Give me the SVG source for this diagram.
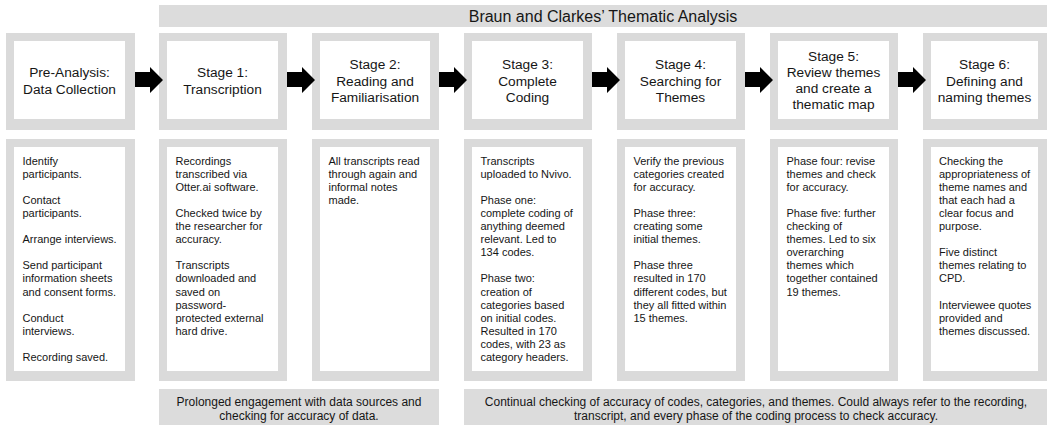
<svg xmlns="http://www.w3.org/2000/svg" width="1047" height="425" viewBox="0 0 1047 425">
  <style>
    .frame { fill: #dadada; }
    .card { fill: #ffffff; }
    .band { fill: #dcdcdc; }
    text { font-family: "Liberation Sans", Arial, Helvetica, sans-serif; fill: #161616; }
    .banner { font-size: 16px; text-anchor: middle; }
    .title { font-size: 13.7px; text-anchor: middle; }
    .body { font-size: 11px; }
    .note { font-size: 12px; text-anchor: middle; }
    .arrow { fill: #000000; }
  </style>
  <defs>
    <!-- block arrow drawn from the right edge of a stage card -->
    <path id="block-arrow" d="M0,72 H15 V67 L28,80 L15,93 V87 H0 Z"/>
  </defs>

  <!-- heading band -->
  <g id="heading">
    <rect class="band" x="159" y="5" width="888" height="22"/>
    <text class="banner" x="603" y="22">Braun and Clarkes’ Thematic Analysis</text>
  </g>

  <!-- Pre-analysis -->
  <g id="pre-analysis-title">
    <rect class="frame" x="6" y="33" width="129" height="97"/>
    <rect class="card" x="14" y="41" width="111" height="78"/>
    <text class="title" x="69.5" y="77.3">Pre-Analysis:<tspan x="69.5" dy="16.3">Data Collection</tspan></text>
  </g>
  <g id="pre-analysis-notes">
    <rect class="frame" x="6" y="139" width="129" height="242"/>
    <rect class="card" x="14" y="147" width="111" height="224"/>
    <text class="body" x="22.5" y="164.5">Identify<tspan x="22.5" dy="13.1">participants.</tspan><tspan x="22.5" dy="26.2">Contact</tspan><tspan x="22.5" dy="13.1">participants.</tspan><tspan x="22.5" dy="26.2">Arrange interviews.</tspan><tspan x="22.5" dy="26.2">Send participant</tspan><tspan x="22.5" dy="13.1">information sheets</tspan><tspan x="22.5" dy="13.1">and consent forms.</tspan><tspan x="22.5" dy="26.2">Conduct</tspan><tspan x="22.5" dy="13.1">interviews.</tspan><tspan x="22.5" dy="26.2">Recording saved.</tspan></text>
  </g>

  <!-- Stage 1 -->
  <g id="stage1-title">
    <rect class="frame" x="159" y="33" width="128" height="97"/>
    <rect class="card" x="167" y="41" width="111" height="78"/>
    <text class="title" x="222.5" y="77.3">Stage 1:<tspan x="222.5" dy="16.3">Transcription</tspan></text>
  </g>
  <g id="stage1-notes">
    <rect class="frame" x="159" y="139" width="128" height="242"/>
    <rect class="card" x="167" y="147" width="111" height="224"/>
    <text class="body" x="175.5" y="164.5">Recordings<tspan x="175.5" dy="13.1">transcribed via</tspan><tspan x="175.5" dy="13.1">Otter.ai software.</tspan><tspan x="175.5" dy="26.2">Checked twice by</tspan><tspan x="175.5" dy="13.1">the researcher for</tspan><tspan x="175.5" dy="13.1">accuracy.</tspan><tspan x="175.5" dy="26.2">Transcripts</tspan><tspan x="175.5" dy="13.1">downloaded and</tspan><tspan x="175.5" dy="13.1">saved on</tspan><tspan x="175.5" dy="13.1">password-</tspan><tspan x="175.5" dy="13.1">protected external</tspan><tspan x="175.5" dy="13.1">hard drive.</tspan></text>
  </g>

  <!-- Stage 2 -->
  <g id="stage2-title">
    <rect class="frame" x="312" y="33" width="127" height="97"/>
    <rect class="card" x="320" y="41" width="110" height="78"/>
    <text class="title" x="375" y="69.2">Stage 2:<tspan x="375" dy="16.3">Reading and</tspan><tspan x="375" dy="16.3">Familiarisation</tspan></text>
  </g>
  <g id="stage2-notes">
    <rect class="frame" x="312" y="139" width="127" height="242"/>
    <rect class="card" x="320" y="147" width="110" height="224"/>
    <text class="body" x="328.5" y="164.5">All transcripts read<tspan x="328.5" dy="13.1">through again and</tspan><tspan x="328.5" dy="13.1">informal notes</tspan><tspan x="328.5" dy="13.1">made.</tspan></text>
  </g>

  <!-- Stage 3 -->
  <g id="stage3-title">
    <rect class="frame" x="464" y="33" width="128" height="97"/>
    <rect class="card" x="472" y="41" width="111" height="78"/>
    <text class="title" x="527.5" y="69.2">Stage 3:<tspan x="527.5" dy="16.3">Complete</tspan><tspan x="527.5" dy="16.3">Coding</tspan></text>
  </g>
  <g id="stage3-notes">
    <rect class="frame" x="464" y="139" width="128" height="242"/>
    <rect class="card" x="472" y="147" width="111" height="224"/>
    <text class="body" x="480.5" y="164.5">Transcripts<tspan x="480.5" dy="13.1">uploaded to Nvivo.</tspan><tspan x="480.5" dy="26.2">Phase one:</tspan><tspan x="480.5" dy="13.1">complete coding of</tspan><tspan x="480.5" dy="13.1">anything deemed</tspan><tspan x="480.5" dy="13.1">relevant. Led to</tspan><tspan x="480.5" dy="13.1">134 codes.</tspan><tspan x="480.5" dy="26.2">Phase two:</tspan><tspan x="480.5" dy="13.1">creation of</tspan><tspan x="480.5" dy="13.1">categories based</tspan><tspan x="480.5" dy="13.1">on initial codes.</tspan><tspan x="480.5" dy="13.1">Resulted in 170</tspan><tspan x="480.5" dy="13.1">codes, with 23 as</tspan><tspan x="480.5" dy="13.1">category headers.</tspan></text>
  </g>

  <!-- Stage 4 -->
  <g id="stage4-title">
    <rect class="frame" x="617" y="33" width="128" height="97"/>
    <rect class="card" x="625" y="41" width="111" height="78"/>
    <text class="title" x="680.5" y="69.2">Stage 4:<tspan x="680.5" dy="16.3">Searching for</tspan><tspan x="680.5" dy="16.3">Themes</tspan></text>
  </g>
  <g id="stage4-notes">
    <rect class="frame" x="617" y="139" width="128" height="242"/>
    <rect class="card" x="625" y="147" width="111" height="224"/>
    <text class="body" x="633.5" y="164.5">Verify the previous<tspan x="633.5" dy="13.1">categories created</tspan><tspan x="633.5" dy="13.1">for accuracy.</tspan><tspan x="633.5" dy="26.2">Phase three:</tspan><tspan x="633.5" dy="13.1">creating some</tspan><tspan x="633.5" dy="13.1">initial themes.</tspan><tspan x="633.5" dy="26.2">Phase three</tspan><tspan x="633.5" dy="13.1">resulted in 170</tspan><tspan x="633.5" dy="13.1">different codes, but</tspan><tspan x="633.5" dy="13.1">they all fitted within</tspan><tspan x="633.5" dy="13.1">15 themes.</tspan></text>
  </g>

  <!-- Stage 5 -->
  <g id="stage5-title">
    <rect class="frame" x="770" y="33" width="128" height="97"/>
    <rect class="card" x="778" y="41" width="111" height="78"/>
    <text class="title" x="833.5" y="61.2">Stage 5:<tspan x="833.5" dy="16">Review themes</tspan><tspan x="833.5" dy="16">and create a</tspan><tspan x="833.5" dy="16">thematic map</tspan></text>
  </g>
  <g id="stage5-notes">
    <rect class="frame" x="770" y="139" width="128" height="242"/>
    <rect class="card" x="778" y="147" width="111" height="224"/>
    <text class="body" x="786.5" y="164.5">Phase four: revise<tspan x="786.5" dy="13.1">themes and check</tspan><tspan x="786.5" dy="13.1">for accuracy.</tspan><tspan x="786.5" dy="26.2">Phase five: further</tspan><tspan x="786.5" dy="13.1">checking of</tspan><tspan x="786.5" dy="13.1">themes. Led to six</tspan><tspan x="786.5" dy="13.1">overarching</tspan><tspan x="786.5" dy="13.1">themes which</tspan><tspan x="786.5" dy="13.1">together contained</tspan><tspan x="786.5" dy="13.1">19 themes.</tspan></text>
  </g>

  <!-- Stage 6 -->
  <g id="stage6-title">
    <rect class="frame" x="923" y="33" width="124" height="97"/>
    <rect class="card" x="931" y="41" width="107" height="78"/>
    <text class="title" x="984.5" y="69.2">Stage 6:<tspan x="984.5" dy="16.3">Defining and</tspan><tspan x="984.5" dy="16.3">naming themes</tspan></text>
  </g>
  <g id="stage6-notes">
    <rect class="frame" x="923" y="139" width="124" height="242"/>
    <rect class="card" x="931" y="147" width="107" height="224"/>
    <text class="body" x="939" y="164.5">Checking the<tspan x="939" dy="13.1">appropriateness of</tspan><tspan x="939" dy="13.1">theme names and</tspan><tspan x="939" dy="13.1">that each had a</tspan><tspan x="939" dy="13.1">clear focus and</tspan><tspan x="939" dy="13.1">purpose.</tspan><tspan x="939" dy="26.2">Five distinct</tspan><tspan x="939" dy="13.1">themes relating to</tspan><tspan x="939" dy="13.1">CPD.</tspan><tspan x="939" dy="26.2">Interviewee quotes</tspan><tspan x="939" dy="13.1">provided and</tspan><tspan x="939" dy="13.1">themes discussed.</tspan></text>
  </g>

  <!-- spanning notes under the stage columns -->
  <g id="engagement-note">
    <rect class="band" x="159" y="389" width="280" height="36"/>
    <text class="note" x="299" y="405.5">Prolonged engagement with data sources and<tspan x="299" dy="14">checking for accuracy of data.</tspan></text>
  </g>
  <g id="checking-note">
    <rect class="band" x="464" y="389" width="583" height="36"/>
    <text class="note" x="756" y="405.5">Continual checking of accuracy of codes, categories, and themes. Could always refer to the recording,<tspan x="756" dy="14">transcript, and every phase of the coding process to check accuracy.</tspan></text>
  </g>

  <!-- arrows between consecutive stages -->
  <g id="connectors" class="arrow">
    <use href="#block-arrow" x="135"/>
    <use href="#block-arrow" x="287"/>
    <use href="#block-arrow" x="439"/>
    <use href="#block-arrow" x="592"/>
    <use href="#block-arrow" x="745"/>
    <use href="#block-arrow" x="898"/>
  </g>
</svg>
